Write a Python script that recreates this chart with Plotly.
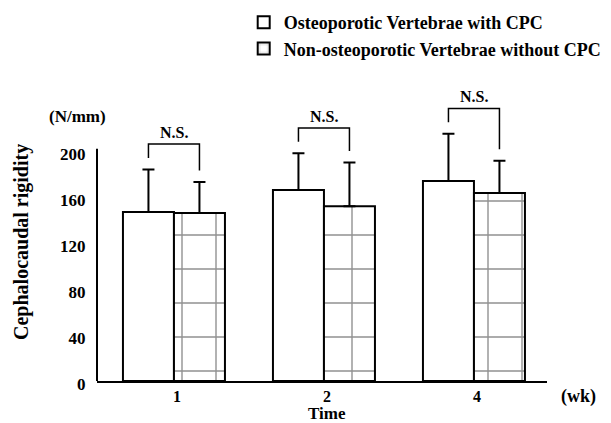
import plotly.graph_objects as go

# ---- data ----
weeks = ["1", "2", "4"]
osteo_mean = [147, 166, 174]
osteo_sd = [37, 32, 41]
non_mean = [146, 152, 163.5]
non_sd = [27, 38, 28]
sig_labels = ["N.S.", "N.S.", "N.S."]
y_ticks = [0, 40, 80, 120, 160, 200]

FONT = "Liberation Serif"
BW = 0.34  # width of each bar (data units)

xpos = list(range(len(weeks)))

def bold(size):
    return dict(family=FONT, size=size, color="black", weight="bold")

fig = go.Figure()
fig.add_trace(go.Bar(
    x=xpos, y=osteo_mean, name="Osteoporotic Vertebrae with CPC",
    marker=dict(color="white", line=dict(color="black", width=2)),
    error_y=dict(type="data", symmetric=False, array=osteo_sd,
                 arrayminus=[0] * len(osteo_sd), color="black",
                 thickness=2, width=6),
))
fig.add_trace(go.Bar(
    x=xpos, y=non_mean, name="Non-osteoporotic Vertebrae without CPC",
    marker=dict(color="white", line=dict(color="black", width=2),
                pattern=dict(shape="+", size=34, solidity=0.08,
                             fgcolor="#222", bgcolor="white")),
    error_y=dict(type="data", symmetric=False, array=non_sd,
                 arrayminus=[0] * len(non_sd), color="black",
                 thickness=2, width=6),
))

shapes = []
annotations = []
for i, lab in enumerate(sig_labels):
    c1 = osteo_mean[i] + osteo_sd[i]
    c2 = non_mean[i] + non_sd[i]
    top = max(c1, c2) + 22
    xl = i - BW / 2
    xr = i + BW / 2
    shapes.append(dict(type="path", xref="x", yref="y",
                       path=f"M {xl},{c1 + 10} L {xl},{top} L {xr},{top} L {xr},{c2 + 10}",
                       line=dict(color="black", width=1.5)))
    annotations.append(dict(x=i, y=top, xref="x", yref="y", text=lab,
                            showarrow=False, yanchor="bottom", yshift=1,
                            font=bold(16)))

# y axis line only up to just above 200
shapes.append(dict(type="line", xref="paper", yref="y", x0=0, x1=0, y0=0, y1=202,
                   line=dict(color="black", width=2)))

annotations.append(dict(x=-0.044, y=229.6, xref="paper", yref="y", text="(N/mm)",
                        showarrow=False, xanchor="center", yanchor="middle",
                        font=bold(17)))
annotations.append(dict(x=1.069, y=0, xref="paper", yref="paper", text="(wk)",
                        showarrow=False, xanchor="center", yanchor="middle", yshift=-15,
                        font=bold(18)))
annotations.append(dict(x=0.511, y=0, xref="paper", yref="paper", text="Time",
                        showarrow=False, xanchor="center", yanchor="middle", yshift=-32,
                        font=bold(17)))
annotations.append(dict(x=-0.1667, y=120.9, xref="paper", yref="y",
                        text="Cephalocaudal rigidity", textangle=-90,
                        showarrow=False, xanchor="center", yanchor="middle",
                        font=bold(20)))

fig.update_layout(
    width=611, height=423,
    margin=dict(l=89, r=72, t=74, b=50, autoexpand=False),
    paper_bgcolor="white", plot_bgcolor="white",
    barmode="group", bargap=0.32, bargroupgap=0,
    font=dict(family=FONT, color="black"),
    shapes=shapes, annotations=annotations,
    legend=dict(x=0.326, y=1.261, xanchor="left", yanchor="top",
                font=bold(18), bgcolor="rgba(0,0,0,0)"),
    xaxis=dict(range=[-0.513, 2.487], tickvals=xpos, ticktext=weeks,
               showline=True, linecolor="black", linewidth=2, ticks="",
               ticklabelshift=3,
               showgrid=False, zeroline=False, tickfont=bold(16)),
    yaxis=dict(range=[0, 260], tickvals=y_ticks, showline=False,
               ticks="outside", ticklen=7, tickcolor="rgba(0,0,0,0)",
               ticklabelshift=3,
               showgrid=False, zeroline=False, tickfont=bold(17)),
)

fig.write_html("out.html")
